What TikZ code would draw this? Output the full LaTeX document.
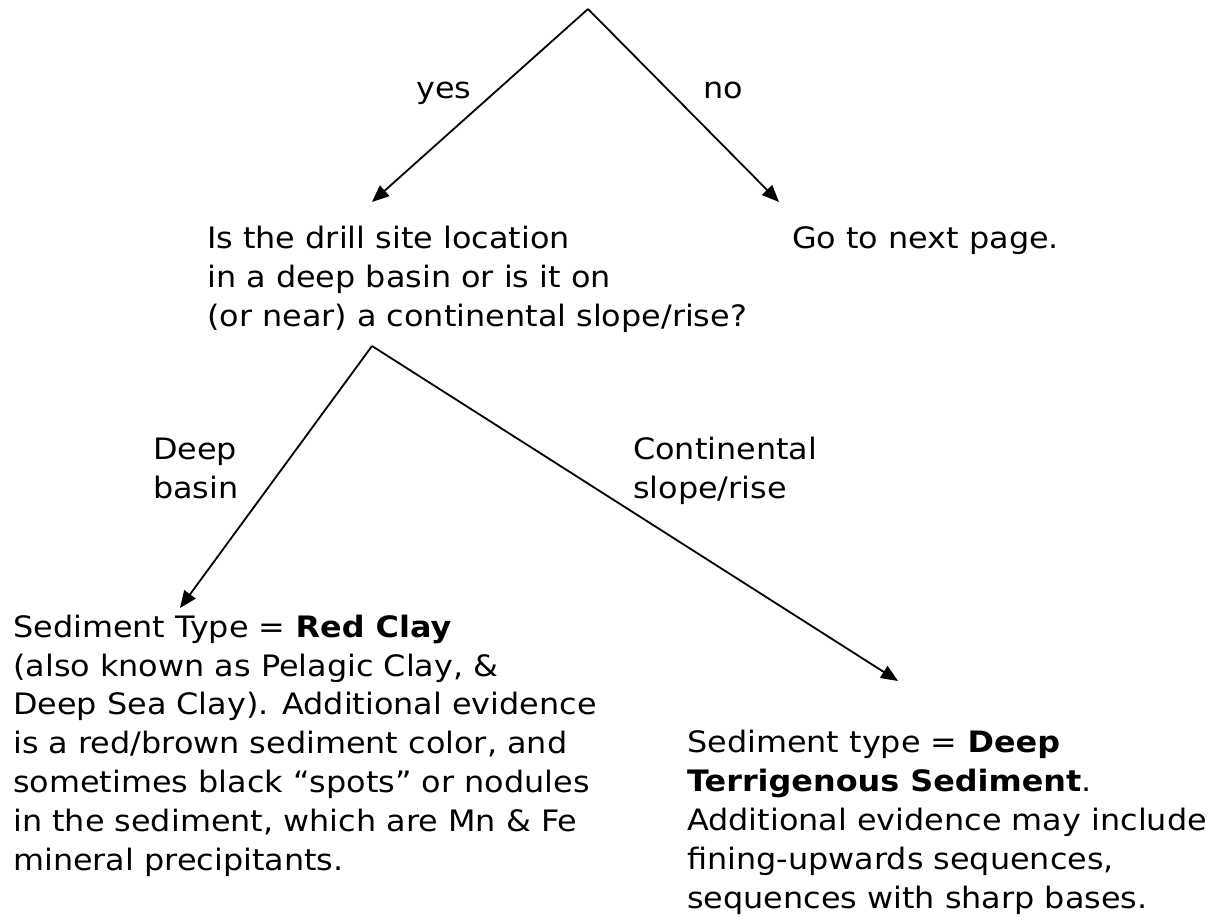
\documentclass[tikz,border=0pt]{standalone}
\usepackage{fontspec}
\setmainfont{DejaVu Sans}[FakeStretch=1.08]
\usetikzlibrary{arrows.meta}
\tikzset{
  txt/.style={anchor=base west, inner sep=0pt, align=left,
    font={\fontsize{29.5}{38.8}\selectfont}},
  conn/.style={line width=1.8pt, -{Triangle[length=17pt,width=14pt]}}
}
\begin{document}
\begin{tikzpicture}[x=1pt,y=-1pt]
\useasboundingbox (0,0) rectangle (1209,916);
% apex points and arrow tips
\coordinate (apexA) at (588,9);
\coordinate (apexB) at (372,346);
\coordinate (tipYes) at (372,202);
\coordinate (tipNo) at (779,202);
\coordinate (tipRed) at (180,608);
\coordinate (tipTer) at (898,681);
% labels (anchored at the baseline of the last line)
\node[txt] (yes) at (416,98) {yes};
\node[txt] (no) at (703,98) {no};
\node[txt] (q) at (207,326) {Is the drill site location\\in a deep basin or is it on\\(or near) a continental slope/rise?};
\node[txt] (next) at (792,248) {Go to next page.};
\node[txt] (deep) at (153,498) {Deep\\basin};
\node[txt] (cont) at (633,498) {Continental\\slope/rise};
\node[txt] (red) at (13,870) {Sediment Type = \textbf{Red Clay}\\(also known as Pelagic Clay, \&\\Deep Sea Clay). Additional evidence\\is a red/brown sediment color, and\\sometimes black “spots” or nodules\\in the sediment, which are Mn \& Fe\\mineral precipitants.};
\node[txt] (ter) at (687,908) {Sediment type = \textbf{Deep}\\\textbf{Terrigenous Sediment}.\\Additional evidence may include\\fining-upwards sequences,\\sequences with sharp bases.};
% connectors
\draw[conn] (apexA) -- (tipYes);
\draw[conn] (apexA) -- (tipNo);
\draw[conn] (apexB) -- (tipRed);
\draw[conn] (apexB) -- (tipTer);
\end{tikzpicture}
\end{document}
